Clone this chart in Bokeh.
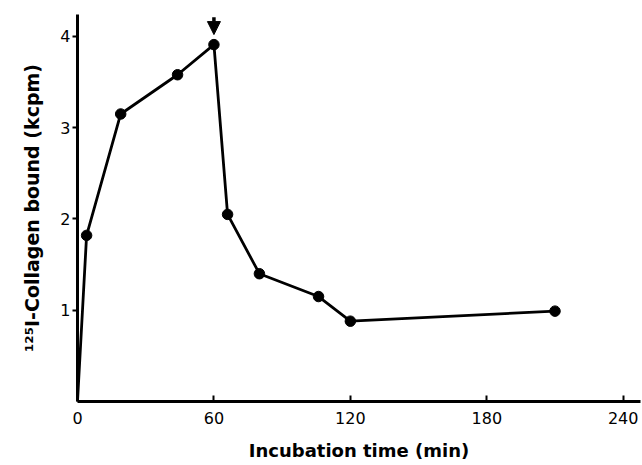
from bokeh.plotting import figure
from bokeh.models import Range1d, FixedTicker, Arrow, NormalHead, ColumnDataSource
from bokeh.embed import file_html
from bokeh.resources import INLINE

# Data
time_min = [0, 4, 19, 44, 60, 66, 80, 106, 120, 210]
collagen_kcpm = [0.0, 1.82, 3.15, 3.58, 3.91, 2.05, 1.40, 1.15, 0.88, 0.99]
x_ticks = [0, 60, 120, 180, 240]
y_ticks = [1, 2, 3, 4]
x_title = "Incubation time (min)"
y_title = "¹²⁵I-Collagen bound (kcpm)"

p = figure(width=642, height=465, output_backend="svg", toolbar_location=None,
           x_range=Range1d(0, 247.6), y_range=Range1d(0, 4.24),
           min_border_left=77, min_border_right=2, min_border_top=14, min_border_bottom=64)
p.outline_line_color = None
p.xgrid.visible = False
p.ygrid.visible = False
p.background_fill_color = "white"
p.border_fill_color = "white"

src = ColumnDataSource(dict(x=time_min, y=collagen_kcpm))
mk = ColumnDataSource(dict(x=time_min[1:], y=collagen_kcpm[1:]))
p.line("x", "y", source=src, line_color="black", line_width=2.8)
p.scatter("x", "y", source=mk, size=10.5, fill_color="black", line_color="black")

# arrow marking the peak
i_peak = collagen_kcpm.index(max(collagen_kcpm))
p.add_layout(Arrow(end=NormalHead(size=13, fill_color="black", line_color="black"),
                   x_start=time_min[i_peak], y_start=collagen_kcpm[i_peak] + 0.30,
                   x_end=time_min[i_peak], y_end=collagen_kcpm[i_peak] + 0.11,
                   line_width=3.5, line_color="black"))

# x axis
xa = p.xaxis[0]
xa.ticker = FixedTicker(ticks=x_ticks)
xa.minor_tick_line_color = None
xa.major_tick_in = 6
xa.major_tick_out = 0
xa.major_tick_line_width = 2
xa.axis_line_width = 3
xa.major_label_standoff = 10
xa.major_label_text_font = "DejaVu Sans"
xa.major_label_text_font_size = "16px"
xa.major_label_text_color = "black"
xa.axis_label = x_title
xa.axis_label_text_font = "DejaVu Sans"
xa.axis_label_text_font_style = "bold"
xa.axis_label_text_font_size = "18px"
xa.axis_label_text_color = "black"
xa.axis_label_standoff = 13

# y axis
ya = p.yaxis[0]
ya.ticker = FixedTicker(ticks=y_ticks)
ya.minor_tick_line_color = None
ya.major_tick_in = 0
ya.major_tick_out = 5
ya.major_tick_line_width = 2
ya.axis_line_width = 3
ya.major_label_standoff = 2
ya.major_label_text_font = "DejaVu Sans"
ya.major_label_text_font_size = "16px"
ya.major_label_text_color = "black"
ya.axis_label = y_title
ya.axis_label_text_font = "DejaVu Sans"
ya.axis_label_text_font_style = "bold"
ya.axis_label_text_font_size = "19px"
ya.axis_label_text_color = "black"
ya.axis_label_standoff = 14

open("out.html", "w").write(file_html(p, INLINE))
